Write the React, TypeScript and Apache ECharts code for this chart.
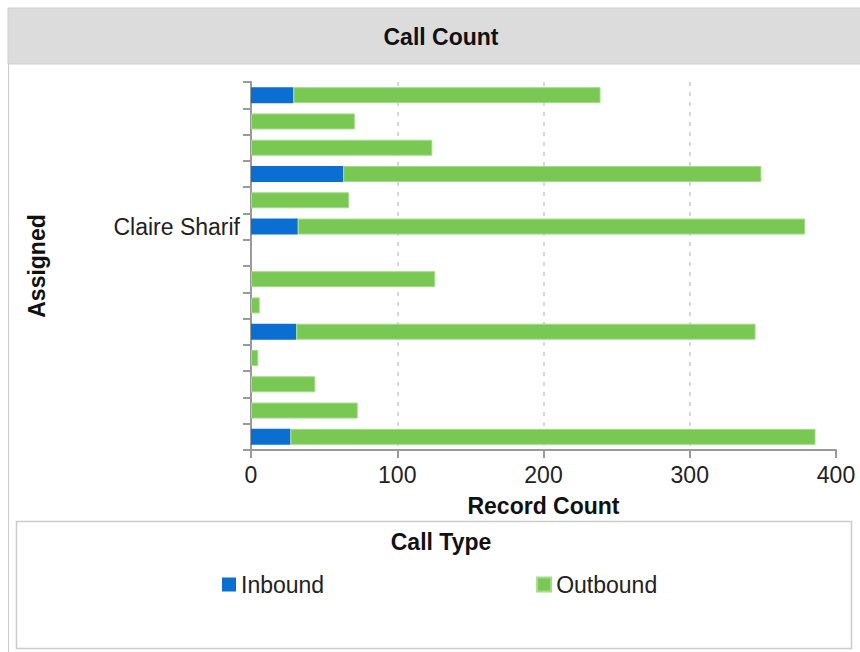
import React, { useEffect, useRef } from "react";
import * as echarts from "echarts";

const categories = ["", "", "", "", "", "Claire Sharif", "", "", "", "", "", "", "", ""];
const inbound = [29, 0, 0, 63, 0, 32, 0, 0, 0, 31, 0, 0, 0, 27];
const outbound = [210, 71, 124, 286, 67, 347, 0, 126, 6, 314, 5, 44, 73, 359];
const xTicks = [0, 100, 200, 300, 400];
const seriesNames = ["Inbound", "Outbound"];

const FONT = "'Liberation Sans', Arial, Helvetica, sans-serif";
const FS = 23;

export default function App() {
  const ref = useRef<HTMLDivElement>(null);
  useEffect(() => {
    if (!ref.current) return;
    const chart = echarts.init(ref.current, null, { renderer: "svg" });
    const toBar = (v: number) => (v === 0 ? "-" : v);
    chart.setOption({
      animation: false,
      textStyle: { fontFamily: FONT },
      graphic: [
        {
          type: "rect",
          shape: { x: 8, y: 8, width: 860, height: 56 },
          style: { fill: "#dcdcdc", stroke: "#cfcfcf", lineWidth: 1 },
          z: -10,
        },
        {
          type: "line",
          shape: { x1: 8.5, y1: 64, x2: 8.5, y2: 652 },
          style: { stroke: "#cccccc", lineWidth: 1 },
        },
        {
          type: "text",
          x: 441,
          y: 37,
          style: {
            text: "Call Count",
            fill: "#111",
            font: `bold ${FS}px ${FONT}`,
            textAlign: "center",
            textVerticalAlign: "middle",
          },
        },
        {
          type: "rect",
          shape: { x: 16.5, y: 521.5, width: 835, height: 127 },
          style: { fill: "none", stroke: "#cccccc", lineWidth: 1.5 },
        },
        {
          type: "text",
          x: 441,
          y: 542,
          style: {
            text: "Call Type",
            fill: "#111",
            font: `bold ${FS}px ${FONT}`,
            textAlign: "center",
            textVerticalAlign: "middle",
          },
        },
      ],
      legend: {
        data: seriesNames,
        left: 222,
        top: 573,
        padding: 0,
        itemWidth: 14,
        itemHeight: 14,
        itemGap: 212,
        icon: "rect",
        textStyle: { fontSize: FS, color: "#222", fontFamily: FONT },
      },
      grid: { left: 251, right: 24, top: 82, bottom: 202, containLabel: false },
      xAxis: {
        type: "value",
        min: xTicks[0],
        max: xTicks[xTicks.length - 1],
        interval: 100,
        name: "Record Count",
        nameLocation: "middle",
        nameGap: 44,
        nameTextStyle: { fontSize: FS, fontWeight: "bold", color: "#111", fontFamily: FONT },
        axisLine: { show: true, lineStyle: { color: "#9a9a9a", width: 2 } },
        axisTick: { show: true, length: 8, lineStyle: { color: "#9a9a9a", width: 2 } },
        axisLabel: { fontSize: FS, color: "#222", margin: 13, fontFamily: FONT },
        splitLine: {
          show: true,
          showMinLine: false,
          showMaxLine: false,
          lineStyle: { color: "#cccccc", type: [4, 6], width: 1.5 },
        },
      },
      yAxis: {
        type: "category",
        data: categories,
        inverse: true,
        name: "Assigned",
        nameLocation: "middle",
        nameGap: 203,
        nameRotate: 90,
        nameTextStyle: { fontSize: FS, fontWeight: "bold", color: "#111", fontFamily: FONT },
        axisLine: { show: true, lineStyle: { color: "#9a9a9a", width: 2 } },
        axisTick: { show: true, length: 8, lineStyle: { color: "#9a9a9a", width: 2 } },
        axisLabel: { fontSize: FS, color: "#222", margin: 11, fontFamily: FONT, interval: 0 },
        splitLine: { show: false },
      },
      series: [
        {
          name: seriesNames[0],
          type: "bar",
          stack: "total",
          barWidth: 16,
          data: inbound.map(toBar),
          itemStyle: { color: "#0b6fd1" },
        },
        {
          name: seriesNames[1],
          type: "bar",
          stack: "total",
          barWidth: 16,
          data: outbound.map(toBar),
          itemStyle: { color: "#79c853", borderColor: "#a5db8a", borderWidth: 1 },
        },
      ],
    });
    return () => chart.dispose();
  }, []);
  return (
    <div
      ref={ref}
      style={{ position: "fixed", left: 0, top: 0, width: 860, height: 652, background: "#fff" }}
    />
  );
}
